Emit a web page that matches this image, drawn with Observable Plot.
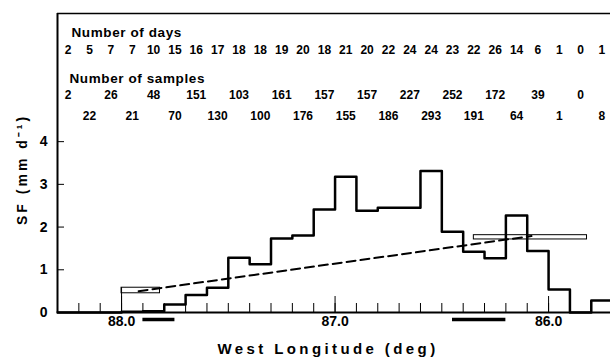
<!DOCTYPE html>
<html><head><meta charset="utf-8">
<script src="https://cdn.jsdelivr.net/npm/d3@7"></script>
<script src="https://cdn.jsdelivr.net/npm/@observablehq/plot@0.6"></script>
<style>
body{margin:0;background:#fff;}
#chart{position:absolute;left:0;top:0;}
</style></head><body><div id="chart"></div>
<script>
// Bin edges (west longitude, deg) and stem-flow values per bin
const binEdges = [88.3,88.2,88.1,88.0,87.9,87.8,87.7,87.6,87.5,87.4,87.3,87.2,87.1,87.0,86.9,86.8,86.7,86.6,86.5,86.4,86.3,86.2,86.1,86.0,85.9,85.8,85.7];
const sfValues = [0,0,0,0.02,0.03,0.19,0.41,0.58,1.28,1.13,1.73,1.8,2.41,3.18,2.38,2.45,2.45,3.31,1.89,1.42,1.27,2.27,1.44,0.54,0,0.28];
const numDays = [2,5,7,7,10,15,16,17,18,18,19,20,18,21,20,22,24,24,23,22,26,14,6,1,0,1];
const numSamples = [2,22,26,21,48,70,151,130,103,100,161,176,157,155,157,186,227,293,252,191,172,64,39,1,0,8];
// Hollow boxes
const boxWest = [88.0, 86.35];
const boxEast = [87.82, 85.82];
const boxLow = [0.45, 1.71];
const boxHigh = [0.58, 1.81];
// Dashed trend line
const trendLon = [87.92, 86.08];
const trendSF = [0.5, 1.79];
// Thick bars below axis
const barWest = [87.9, 86.45];
const barEast = [87.75, 86.2];
// Ticks
const minorTicks = [88.2,88.1,88.0,87.9,87.8,87.7,87.6,87.5,87.4,87.3,87.2,87.1,87.0,86.9,86.8,86.7,86.6,86.5,86.4,86.3,86.2,86.1,86.0,85.9,85.8];
const majorTicks = [88.0, 87.0, 86.0];
const yTicks = [0, 1, 2, 3, 4];
const headers = ["Number of days", "Number of samples"];
const xLabel = "West Longitude (deg)";
const yLabel = "SF (mm d⁻¹)";

const xDomain = [88.3, 85.71], yDomain = [0, 7];
const binCenters = sfValues.map((_, i) => (binEdges[i] + binEdges[i + 1]) / 2);
const hist = binEdges.map((lon, i) => ({lon, sf: sfValues[Math.min(i, sfValues.length - 1)]}));
const boxes = boxWest.map((w, i) => ({w, e: boxEast[i], lo: boxLow[i], hi: boxHigh[i]}));
const trend = trendLon.map((lon, i) => ({lon, sf: trendSF[i]}));
const bars = barWest.map((w, i) => ({w, e: barEast[i]}));
const days = numDays.map((n, i) => ({x: binCenters[i], n}));
const samples = numSamples.map((n, i) => ({x: binCenters[i], n, row: i % 2}));

const W = 610, H = 362, mL = 57, mR = 0, mT = 13, mB = 50;
const frameH = H - mT - mB, frameW = W - mL - mR;
// pixel -> data conversions for inward tick lengths
const yPerPx = (yDomain[1] - yDomain[0]) / frameH;
const xPerPx = (xDomain[0] - xDomain[1]) / frameW;
const font = {fontWeight: "bold"};
const chart = Plot.plot({
  width: W, height: H,
  marginLeft: mL, marginRight: mR, marginTop: mT, marginBottom: mB,
  style: {fontFamily: "'Liberation Sans', Arial, sans-serif", background: "#fff", color: "#000"},
  x: {domain: xDomain},
  y: {domain: yDomain},
  marks: [
    Plot.axisX(majorTicks, {tickSize: 0, tickPadding: 4, tickFormat: d3.format(".1f"), label: null, fontSize: 14, ...font}),
    Plot.axisY(yTicks, {tickSize: 0, tickPadding: 10, label: null, fontSize: 14, ...font}),
    Plot.ruleX(minorTicks, {x: d => d, y1: () => 0, y2: () => 9 * yPerPx, stroke: "#000", strokeWidth: 1}),
    Plot.ruleX(majorTicks, {x: d => d, y1: () => 0, y2: () => 16 * yPerPx, stroke: "#000", strokeWidth: 1}),
    Plot.ruleY(yTicks, {y: d => d, x1: () => xDomain[0], x2: () => xDomain[0] - 7 * xPerPx, stroke: "#000", strokeWidth: 1}),
    Plot.ruleY([7], {strokeWidth: 1.5}),
    Plot.ruleX([88.3], {strokeWidth: 2}),
    Plot.line(trend, {x: "lon", y: "sf", strokeDasharray: "9,5", strokeWidth: 2}),
    Plot.rect(boxes, {x1: "w", x2: "e", y1: "lo", y2: "hi", fill: "none", stroke: "#000", strokeWidth: 1}),
    Plot.ruleX(boxes.slice(0, 1), {x: "w", y1: () => 0, y2: "hi", strokeWidth: 1}),
    Plot.ruleY(bars, {x1: "w", x2: "e", y: () => 0, dy: 7, strokeWidth: 3.5}),
    Plot.text([headers[0]], {text: d => d, frameAnchor: "top-left", dx: 14, dy: 14, textAnchor: "start", fontSize: 13.5, ...font}),
    Plot.text([headers[1]], {text: d => d, frameAnchor: "top-left", dx: 12, dy: 60, textAnchor: "start", fontSize: 13.5, ...font}),
    Plot.text(days, {x: "x", text: "n", frameAnchor: "top", dy: 32, fontSize: 12, ...font}),
    Plot.text(samples, {x: "x", text: "n", filter: d => d.row === 0, frameAnchor: "top", dy: 77, fontSize: 12, ...font}),
    Plot.text(samples, {x: "x", text: "n", filter: d => d.row === 1, frameAnchor: "top", dy: 98, fontSize: 12, ...font}),
    Plot.text([yLabel], {text: d => d, frameAnchor: "left", rotate: -90, dx: -35, dy: 62, fontSize: 14, ...font}),
    Plot.text([xLabel], {text: d => d, frameAnchor: "bottom", dx: -6, dy: 41, fontSize: 15, ...font}),
    Plot.ruleY([0], {strokeWidth: 2}),
    Plot.line(hist, {x: "lon", y: "sf", curve: "step-after", strokeWidth: 2.5})
  ]
});
document.getElementById("chart").appendChild(chart);
d3.select(chart).selectAll("text").each(function() {
  const t = this.textContent;
  if (t === xLabel) d3.select(this).attr("letter-spacing", "3.4px");
  if (t === yLabel) d3.select(this).attr("letter-spacing", "3px");
  if (t === headers[0] || t === headers[1]) d3.select(this).attr("letter-spacing", "0.6px");
});
</script></body></html>
